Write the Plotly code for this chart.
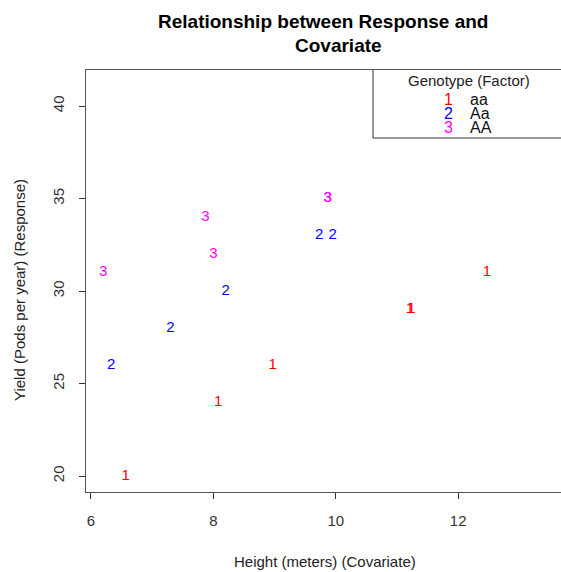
import plotly.graph_objects as go

# ---- data ----
aa_x = [6.57, 8.08, 8.97, 11.21, 11.235, 12.47]
aa_y = [20, 24, 26, 29, 29, 31]
Aa_x = [6.33, 7.30, 8.20, 9.73, 9.95]
Aa_y = [26, 28, 30, 33, 33]
AA_x = [6.20, 7.87, 8.00, 9.87, 9.87]
AA_y = [31, 34, 32, 35, 35]

group_codes = ["1", "2", "3"]
group_labels = ["aa", "Aa", "AA"]
group_colors = ["#FF0000", "#0000FF", "#FF00FF"]

x_ticks = [6, 8, 10, 12]
y_ticks = [20, 25, 30, 35, 40]

W, H = 561, 572
L, R, T, B = 86, 561, 70, 492
FONT = "Liberation Sans, Arial, sans-serif"

def px(xp):
    return (xp - L) / (R - L)

def py(yp):
    return (B - yp) / (B - T)

fig = go.Figure()
series = [(aa_x, aa_y), (Aa_x, Aa_y), (AA_x, AA_y)]
for (xs, ys), code, col, lab in zip(series, group_codes, group_colors, group_labels):
    fig.add_trace(go.Scatter(
        x=xs, y=ys, mode="text", text=[code] * len(xs),
        textposition="middle center",
        textfont=dict(family=FONT, size=15, color=col),
        name=lab, showlegend=False, hoverinfo="x+y"))

annotations = []
# title (two lines)
annotations.append(dict(x=px(322.5), y=py(22), xref="paper", yref="paper",
                        text="<b>Relationship between Response and</b>", showarrow=False,
                        font=dict(family=FONT, size=19, color="black"),
                        xanchor="center", yanchor="middle"))
annotations.append(dict(x=px(338), y=py(45), xref="paper", yref="paper",
                        text="<b>Covariate</b>", showarrow=False,
                        font=dict(family=FONT, size=19, color="black"),
                        xanchor="center", yanchor="middle"))
# axis titles
annotations.append(dict(x=px(325), y=py(561), xref="paper", yref="paper",
                        text="Height (meters) (Covariate)", showarrow=False,
                        font=dict(family=FONT, size=15, color="#222"),
                        xanchor="center", yanchor="middle"))
annotations.append(dict(x=px(19), y=py(290), xref="paper", yref="paper",
                        text="Yield (Pods per year) (Response)", showarrow=False,
                        textangle=-90,
                        font=dict(family=FONT, size=15, color="#222"),
                        xanchor="center", yanchor="middle"))
# legend
annotations.append(dict(x=px(469), y=py(80), xref="paper", yref="paper",
                        text="Genotype (Factor)", showarrow=False,
                        font=dict(family=FONT, size=15, color="#222"),
                        xanchor="center", yanchor="middle"))
for i, (code, lab, col) in enumerate(zip(group_codes, group_labels, group_colors)):
    yy = 100 + i * 13.5
    annotations.append(dict(x=px(448), y=py(yy), xref="paper", yref="paper",
                            text=code, showarrow=False,
                            font=dict(family=FONT, size=16, color=col),
                            xanchor="center", yanchor="middle"))
    annotations.append(dict(x=px(468), y=py(yy), xref="paper", yref="paper",
                            text=lab, showarrow=False,
                            font=dict(family=FONT, size=16, color="#111"),
                            xanchor="left", yanchor="middle"))

shapes = [
    dict(type="line", xref="paper", yref="paper", x0=px(373), x1=px(373),
         y0=py(70), y1=py(138), line=dict(color="#333", width=1)),
    dict(type="line", xref="paper", yref="paper", x0=px(373), x1=1.0,
         y0=py(138), y1=py(138), line=dict(color="#333", width=1)),
]

fig.update_layout(
    width=W, height=H,
    margin=dict(l=L, r=W - R, t=T, b=H - B),
    paper_bgcolor="white", plot_bgcolor="white",
    font=dict(family=FONT, size=15, color="#333"),
    annotations=annotations, shapes=shapes,
    showlegend=False,
)
fig.update_xaxes(
    range=[5.92, 13.68], tickvals=x_ticks, ticktext=[str(v) for v in x_ticks],
    showgrid=False, zeroline=False, showline=True, linecolor="#555", linewidth=1,
    mirror=True, ticks="outside", ticklen=6, tickcolor="#333",
    tickfont=dict(family=FONT, size=15, color="#333"), ticklabelstandoff=9,
)
fig.update_yaxes(
    range=[19.14, 41.95], tickvals=y_ticks, ticktext=[str(v) for v in y_ticks],
    showgrid=False, zeroline=False, showline=True, linecolor="#555", linewidth=1,
    mirror=False, ticks="outside", ticklen=6, tickcolor="#333", tickangle=-90,
    tickfont=dict(family=FONT, size=15, color="#333"), ticklabelstandoff=9,
)

fig.write_html("out.html")
